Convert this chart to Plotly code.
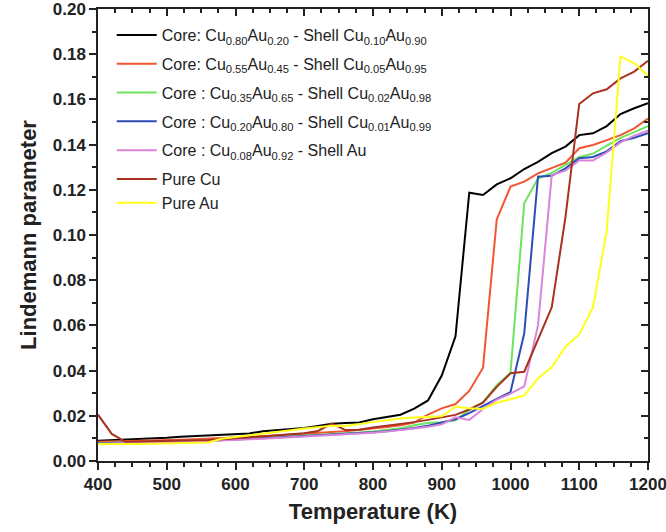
import plotly.graph_objects as go

temperature = list(range(400, 1201, 20))

core_cu80 = [0.0090, 0.0092, 0.0094, 0.0096, 0.0100, 0.0103, 0.0107, 0.0110, 0.0113, 0.0118,
             0.0120, 0.0122, 0.0132, 0.0137, 0.0140, 0.0146, 0.0155, 0.0165, 0.0168, 0.0170,
             0.0185, 0.0195, 0.0205, 0.0232, 0.0268, 0.0378, 0.0552, 0.1187, 0.1177, 0.1224,
             0.1251, 0.1292, 0.1324, 0.1362, 0.1391, 0.1442, 0.1450, 0.1482, 0.1535, 0.1561, 0.1583]

core_cu55 = [0.0085, 0.0086, 0.0087, 0.0088, 0.0090, 0.0092, 0.0094, 0.0096, 0.0098, 0.0100,
             0.0104, 0.0107, 0.0110, 0.0113, 0.0116, 0.0120, 0.0124, 0.0128, 0.0132, 0.0137,
             0.0142, 0.0150, 0.0158, 0.0170, 0.0205, 0.0233, 0.0252, 0.0310, 0.0413, 0.1069,
             0.1214, 0.1236, 0.1273, 0.1295, 0.1320, 0.1384, 0.1398, 0.1420, 0.1442, 0.1472, 0.1515]

core_cu35 = [0.0080, 0.0081, 0.0082, 0.0083, 0.0084, 0.0086, 0.0088, 0.0090, 0.0092, 0.0094,
             0.0097, 0.0100, 0.0103, 0.0106, 0.0109, 0.0112, 0.0115, 0.0118, 0.0122, 0.0126,
             0.0131, 0.0137, 0.0145, 0.0158, 0.0168, 0.0172, 0.0180, 0.0225, 0.0260, 0.0335,
             0.0390, 0.1140, 0.1250, 0.1275, 0.1310, 0.1345, 0.1360, 0.1395, 0.1430, 0.1455, 0.1482]

core_cu20 = [0.0078, 0.0079, 0.0080, 0.0081, 0.0082, 0.0084, 0.0086, 0.0088, 0.0090, 0.0092,
             0.0095, 0.0098, 0.0101, 0.0104, 0.0107, 0.0110, 0.0113, 0.0116, 0.0119, 0.0123,
             0.0127, 0.0132, 0.0138, 0.0146, 0.0156, 0.0170, 0.0185, 0.0212, 0.0245, 0.0275,
             0.0305, 0.0565, 0.1258, 0.1262, 0.1295, 0.1340, 0.1345, 0.1370, 0.1415, 0.1430, 0.1450]

core_cu08 = [0.0076, 0.0077, 0.0078, 0.0079, 0.0080, 0.0082, 0.0084, 0.0086, 0.0088, 0.0090,
             0.0093, 0.0096, 0.0099, 0.0102, 0.0105, 0.0108, 0.0111, 0.0114, 0.0117, 0.0121,
             0.0125, 0.0130, 0.0136, 0.0144, 0.0152, 0.0162, 0.0193, 0.0182, 0.0230, 0.0272,
             0.0298, 0.0330, 0.0600, 0.1265, 0.1285, 0.1330, 0.1330, 0.1365, 0.1410, 0.1440, 0.1462]

pure_cu = [0.0205, 0.0120, 0.0085, 0.0086, 0.0088, 0.0089, 0.0090, 0.0091, 0.0093, 0.0096,
           0.0100, 0.0104, 0.0110, 0.0114, 0.0118, 0.0123, 0.0133, 0.0165, 0.0137, 0.0138,
           0.0148, 0.0155, 0.0163, 0.0172, 0.0182, 0.0193, 0.0204, 0.0228, 0.0258, 0.0328,
           0.0388, 0.0395, 0.0540, 0.0680, 0.1080, 0.1580, 0.1627, 0.1645, 0.1693, 0.1723, 0.1771]

pure_au = [0.0075, 0.0074, 0.0074, 0.0075, 0.0076, 0.0077, 0.0078, 0.0080, 0.0082, 0.0098,
           0.0105, 0.0112, 0.0120, 0.0128, 0.0136, 0.0144, 0.0149, 0.0156, 0.0155, 0.0165,
           0.0172, 0.0180, 0.0188, 0.0192, 0.0196, 0.0198, 0.0240, 0.0233, 0.0230, 0.0258,
           0.0273, 0.0290, 0.0366, 0.0415, 0.0506, 0.0560, 0.0680, 0.1020, 0.1790, 0.1760, 0.1705]

series_names = [
    "Core: Cu<sub>0.80</sub>Au<sub>0.20</sub> - Shell Cu<sub>0.10</sub>Au<sub>0.90</sub>",
    "Core: Cu<sub>0.55</sub>Au<sub>0.45</sub> - Shell Cu<sub>0.05</sub>Au<sub>0.95</sub>",
    "Core : Cu<sub>0.35</sub>Au<sub>0.65</sub> - Shell Cu<sub>0.02</sub>Au<sub>0.98</sub>",
    "Core : Cu<sub>0.20</sub>Au<sub>0.80</sub> - Shell Cu<sub>0.01</sub>Au<sub>0.99</sub>",
    "Core : Cu<sub>0.08</sub>Au<sub>0.92</sub> - Shell Au",
    "Pure Cu",
    "Pure Au",
]
series_values = [core_cu80, core_cu55, core_cu35, core_cu20, core_cu08, pure_cu, pure_au]
series_colors = ["#000000", "#F25530", "#6FE35F", "#2C4DB5", "#DA85DA", "#A8311F", "#FFFF1A"]
legend_groups = ["g1", "g2", "g3", "g4", "g5", "g6", "g6"]

x_ticks = [400, 500, 600, 700, 800, 900, 1000, 1100, 1200]
y_ticks = [0.00, 0.02, 0.04, 0.06, 0.08, 0.10, 0.12, 0.14, 0.16, 0.18, 0.20]

FONT = "Liberation Sans, Arial, sans-serif"
INK = "#222222"

fig = go.Figure()
for name, vals, col, grp in zip(series_names, series_values, series_colors, legend_groups):
    fig.add_trace(go.Scatter(x=temperature, y=vals, name=name, mode="lines", legendgroup=grp,
                             line=dict(color=col, width=2)))

# transparent copy on the mirror axes so the top/right frame (inward ticks) is drawn
fig.add_trace(go.Scatter(x=temperature, y=core_cu80, xaxis="x2", yaxis="y2", mode="lines",
                         line=dict(color="rgba(0,0,0,0)", width=0), showlegend=False,
                         hoverinfo="skip"))

tickfont = dict(family=FONT, size=17, color=INK)
axis_common = dict(showgrid=False, zeroline=False, showline=True, linecolor=INK, automargin=False,
                   linewidth=1.5, ticks="outside", ticklen=7, tickwidth=1.5, tickcolor=INK,
                   tickfont=tickfont, ticklabeloverflow="allow")
mirror_common = dict(showgrid=False, zeroline=False, showline=True, linecolor=INK, automargin=False,
                     linewidth=1.5, ticks="inside", ticklen=7, tickwidth=1.5, tickcolor=INK,
                     showticklabels=False)

fig.update_layout(
    width=666, height=532,
    margin=dict(l=98, r=18, t=9, b=71),
    paper_bgcolor="white", plot_bgcolor="white",
    showlegend=True,
    legend=dict(x=0.025, y=0.98, xanchor="left", yanchor="top", bgcolor="rgba(0,0,0,0)",
                font=dict(family=FONT, size=16, color=INK),
                tracegroupgap=5, itemwidth=40),
    xaxis=dict(range=[400, 1200], tickvals=x_ticks, ticktext=[f"<b>{v}</b>" for v in x_ticks],
               minor=dict(dtick=25, ticks="outside", ticklen=4, tickwidth=1.5, tickcolor=INK),
               title=dict(text="<b>Temperature (K)</b>", standoff=10,
                          font=dict(family=FONT, size=22, color=INK)),
               **axis_common),
    yaxis=dict(range=[0, 0.20], tickvals=y_ticks, ticktext=[f"<b>{v:.2f}</b>" for v in y_ticks],
               minor=dict(dtick=0.01, ticks="outside", ticklen=4, tickwidth=1.5, tickcolor=INK),
               title=dict(text="<b>Lindemann parameter</b>", standoff=10,
                          font=dict(family=FONT, size=22, color=INK)),
               **axis_common),
    xaxis2=dict(range=[400, 1200], overlaying="x", side="top", tickvals=x_ticks,
                minor=dict(dtick=25, ticks="inside", ticklen=4, tickwidth=1.5, tickcolor=INK),
                **mirror_common),
    yaxis2=dict(range=[0, 0.20], overlaying="y", side="right", tickvals=y_ticks,
                minor=dict(dtick=0.01, ticks="inside", ticklen=4, tickwidth=1.5, tickcolor=INK),
                **mirror_common),
)

fig.write_html("out.html", config={"displayModeBar": False},
               post_script="document.body.style.margin='0';document.body.style.overflow='hidden';")
